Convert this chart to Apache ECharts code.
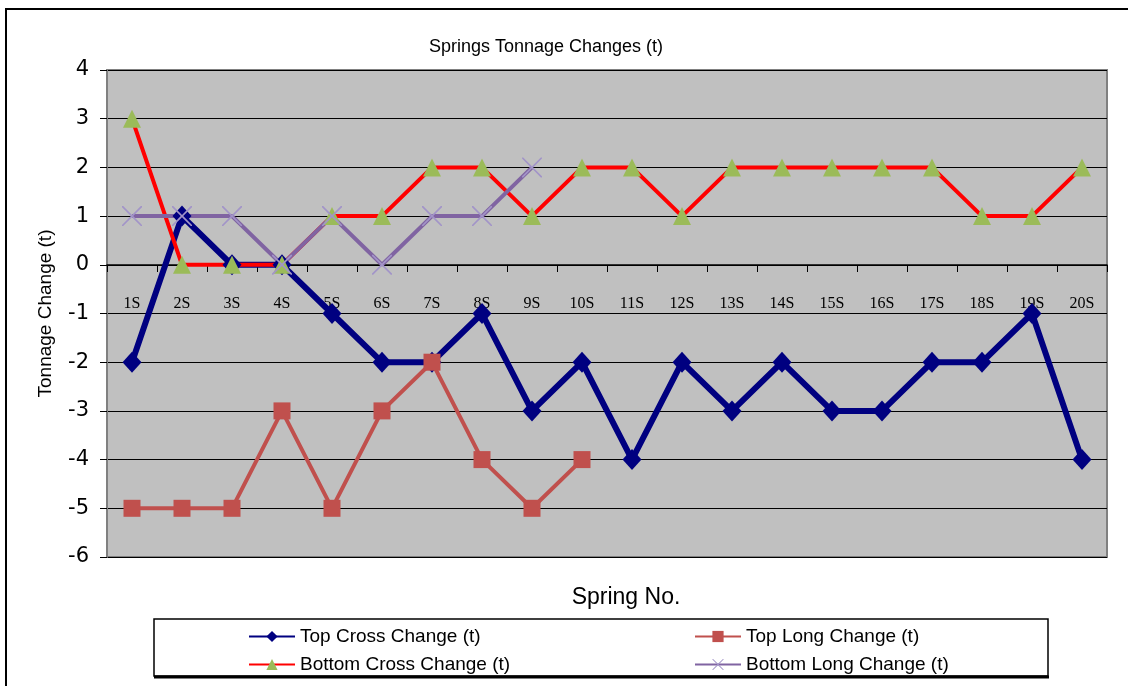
<!DOCTYPE html>
<html>
<head>
<meta charset="utf-8">
<script src="https://cdn.jsdelivr.net/npm/echarts@6/dist/echarts.min.js"></script>
<style>
html, body { margin: 0; padding: 0; background: #fff; }
#chart { width: 1128px; height: 686px; }
</style>
</head>
<body>
<div id="chart"></div>
<script>
var springs = ['1S','2S','3S','4S','5S','6S','7S','8S','9S','10S','11S','12S','13S','14S','15S','16S','17S','18S','19S','20S'];
var topCross = [-2, 1, 0, 0, -1, -2, -2, -1, -3, -2, -4, -2, -3, -2, -3, -3, -2, -2, -1, -4];
var topLong = [-5, -5, -5, -3, -5, -3, -2, -4, -5, -4, null, null, null, null, null, null, null, null, null, null];
var bottomCross = [3, 0, 0, 0, 1, 1, 2, 2, 1, 2, 2, 1, 2, 2, 2, 2, 2, 1, 1, 2];
var bottomLong = [1, 1, 1, 0, 1, 0, 1, 1, 2, null, null, null, null, null, null, null, null, null, null, null];
var names = ['Top Cross Change (t)', 'Top Long Change (t)', 'Bottom Cross Change (t)', 'Bottom Long Change (t)'];

// thin x mark for the bottom long series
var xMark = 'path://M0,0 L1.2,0 L10,8.8 L18.8,0 L20,0 L20,1.2 L11.2,10 L20,18.8 L20,20 L18.8,20 L10,11.2 L1.2,20 L0,20 L0,18.8 L8.8,10 L0,1.2 Z';

window.onload = function () {
    var chart = echarts.init(document.getElementById('chart'));

    var legendText = { fontFamily: 'Liberation Sans', fontSize: 19, color: '#000' };
    function leg(name, left, top) {
        return {
            data: [name], left: left, top: top, padding: 0, itemWidth: 46, itemHeight: 14, itemGap: 4,
            textStyle: legendText, selectedMode: false
        };
    }

    chart.setOption({
        backgroundColor: '#fff',
        animation: false,
        title: {
            text: 'Springs Tonnage Changes (t)',
            left: 541, top: 33, textAlign: 'center',
            textStyle: { fontFamily: 'Liberation Sans', fontSize: 18, fontWeight: 'normal', color: '#000' }
        },
        graphic: [
            { type: 'rect', shape: { x: 6, y: 9, width: 1300, height: 900 }, style: { fill: 'none', stroke: '#000', lineWidth: 2 } },
            { type: 'rect', shape: { x: 154, y: 619, width: 894, height: 57 }, style: { fill: '#fff', stroke: '#000', lineWidth: 1.5 }, z: -1 },
            { type: 'line', shape: { x1: 154, y1: 677, x2: 1049, y2: 677 }, style: { stroke: '#000', lineWidth: 3 } }
        ],
        legend: [
            leg(names[0], 248, 627),
            leg(names[1], 694, 627),
            leg(names[2], 248, 655),
            leg(names[3], 694, 655)
        ],
        grid: {
            left: 107, right: 21, top: 70, bottom: 129,
            show: true, backgroundColor: '#C0C0C0', borderColor: '#808080', borderWidth: 2
        },
        xAxis: {
            type: 'category',
            data: springs,
            boundaryGap: true,
            name: 'Spring No.',
            nameLocation: 'middle',
            nameGap: 321,
            // sit the axis on the zero line (292px above the grid bottom)
            offset: -292,
            axisLine: { onZero: false, lineStyle: { color: '#000', width: 1.5 } },
            axisTick: { show: true, alignWithLabel: false, length: 7, lineStyle: { color: '#000' } },
            axisLabel: { margin: 31, fontFamily: 'Liberation Serif', fontSize: 16, color: '#000' },
            nameTextStyle: { fontFamily: 'Liberation Sans', fontSize: 23, color: '#000', padding: [0, 0, 0, 38] }
        },
        yAxis: {
            type: 'value',
            min: -6, max: 4, interval: 1,
            name: 'Tonnage Change (t)',
            nameLocation: 'middle',
            nameGap: 52,
            nameTextStyle: { fontFamily: 'Liberation Sans', fontSize: 19, color: '#000' },
            axisLine: { show: true, lineStyle: { color: '#808080', width: 2 } },
            axisTick: { show: true, length: 7, lineStyle: { color: '#000' } },
            axisLabel: { margin: 18, fontFamily: 'DejaVu Sans', fontSize: 21, color: '#000' },
            splitLine: { show: true, lineStyle: { color: '#000', width: 1 } }
        },
        series: [
            {
                name: names[0], type: 'line', data: topCross,
                symbol: 'diamond', symbolSize: [19, 21],
                lineStyle: { color: '#000080', width: 6 },
                itemStyle: { color: '#000080' }
            },
            {
                name: names[1], type: 'line', data: topLong,
                symbol: 'rect', symbolSize: 17,
                lineStyle: { color: '#C0504D', width: 4 },
                itemStyle: { color: '#C0504D' }
            },
            {
                name: names[2], type: 'line', data: bottomCross,
                symbol: 'triangle', symbolSize: 18,
                lineStyle: { color: '#FF0000', width: 4 },
                itemStyle: { color: '#9BBB59' }
            },
            {
                name: names[3], type: 'line', data: bottomLong,
                symbol: xMark, symbolSize: 20,
                lineStyle: { color: '#8064A2', width: 4 },
                itemStyle: { color: '#A294C8' }
            }
        ]
    });
};
</script>
</body>
</html>
